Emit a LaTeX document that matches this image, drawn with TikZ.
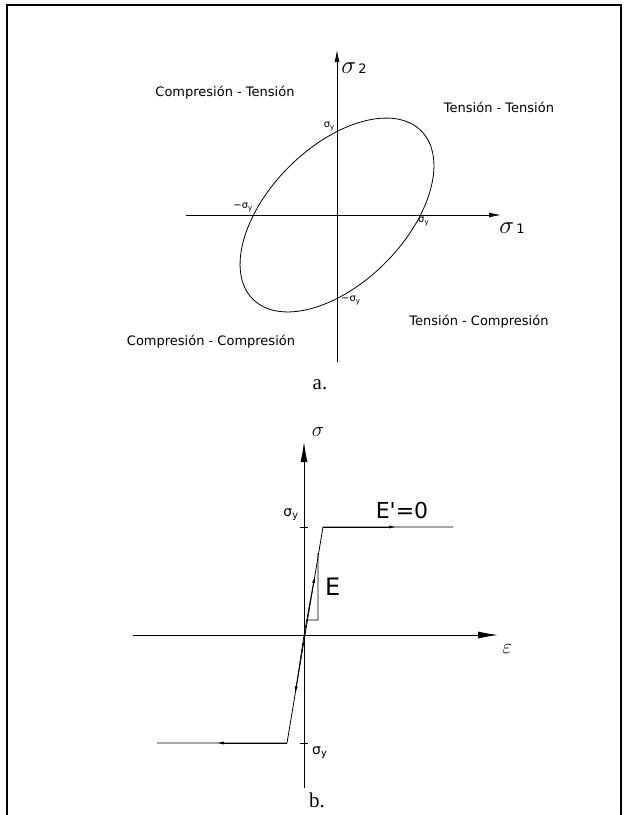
\documentclass[tikz,border=0pt]{standalone}
\usepackage{fontspec}
\setmainfont{DejaVu Sans}
\newfontfamily\capfont{Liberation Serif}
\usetikzlibrary{arrows.meta,calc}
\newcommand{\sy}{σ\textsubscript{y}}

\begin{document}
\begin{tikzpicture}[
  x=1pt, y=-1pt,
  axis/.style={line width=0.8pt, -{Latex[length=12pt,width=5pt]}},
  bigaxis/.style={line width=0.8pt, -{Latex[length=20pt,width=7pt]}},
  curve/.style={line width=0.8pt},
  midarrow/.style={line width=0.8pt, -{Latex[length=7pt,width=3pt]}},
  quad/.style={font=\fontsize{13}{15}\selectfont, inner sep=0pt},
  limit/.style={font=\fontsize{10}{12}\selectfont, inner sep=1pt},
  biglimit/.style={font=\fontsize{14}{16}\selectfont, inner sep=1pt},
  caption/.style={font=\capfont\fontsize{21}{23}\selectfont, inner sep=0pt}
]
  \useasboundingbox (0,0) rectangle (626,815);
  % frame
  \draw[line width=2.5pt] (7,815) -- (7,5) -- (621,5) -- (621,815);

  % a. yield surface
  \coordinate (oa) at (337,215);
  \coordinate (s1start) at (186,215);
  \coordinate (s1end) at (501,215);
  \coordinate (s2start) at (337,362);
  \coordinate (s2end) at (337,50);
  \draw[axis] (s1start) -- (s1end);
  \draw[axis] (s2start) -- (s2end);
  \draw[curve, rotate around={45:(oa)}] (oa) ellipse (119 and 68);
  \node[inner sep=0pt] (s2) at (354,68)
    {\fontsize{24}{24}\selectfont$\sigma$\fontsize{13}{13}\selectfont\,2};
  \node[inner sep=0pt] (s1) at (512,228)
    {\fontsize{24}{24}\selectfont$\sigma$\fontsize{13}{13}\selectfont\,1};
  \node[limit, anchor=south east] (syt) at (336,132) {\sy};
  \node[limit, anchor=south east] (msyl) at (254,213) {−\sy};
  \node[limit, anchor=north west] (syr) at (417,216) {\sy};
  \node[limit, anchor=north west] (msyb) at (340,295) {−\sy};
  \node[quad] (ct) at (225,93) {Compresión - Tensión};
  \node[quad] (tt) at (499,107) {Tensión - Tensión};
  \node[quad] (tc) at (479,322) {Tensión - Compresión};
  \node[quad] (cc) at (211,342) {Compresión - Compresión};
  \node[caption] (capa) at (320,385) {a.};

  % b. elastic - perfectly plastic
  \coordinate (ob) at (304,635);
  \coordinate (sgstart) at (304,788);
  \coordinate (sgend) at (304,442);
  \coordinate (epstart) at (133,635);
  \coordinate (epend) at (498,635);
  \coordinate (yt) at (323,527);
  \coordinate (pe) at (453,527);
  \coordinate (yb) at (287,743);
  \coordinate (pb) at (157,743);
  \draw[bigaxis] (sgstart) -- (sgend);
  \draw[bigaxis] (epstart) -- (epend);
  \draw[curve] (300,527) -- (308,527);
  \draw[curve] (300,743) -- (308,743);
  \draw[curve] (pb) -- (yb) -- (yt) -- (pe);
  \draw[midarrow] (yt) -- (396,527);
  \draw[midarrow] (yb) -- (217,743);
  \draw[midarrow] (ob) -- ($(yb)!0.773!(yt)$);
  \draw[midarrow] (ob) -- ($(yt)!0.77!(yb)$);
  \coordinate (tri1) at ($(yb)!0.569!(yt)$);
  \draw[curve] (tri1) -- (318,620) -- (318,553);
  \node[inner sep=0pt] (sg) at (318,432) {\fontsize{21}{21}\selectfont$\sigma$};
  \node[inner sep=0pt] (ep) at (507,649) {\fontsize{21}{21}\selectfont$\varepsilon$};
  \node[inner sep=0pt, anchor=west] (E) at (325,587) {\fontsize{24}{24}\selectfont E};
  \node[inner sep=0pt] (Ep) at (402,510) {\fontsize{22}{22}\selectfont E\textquotesingle=0};
  \node[biglimit] (syb1) at (291,515) {\sy};
  \node[biglimit, anchor=west] (syb2) at (311,753) {\sy};
  \node[caption] (capb) at (317,800) {b.};
\end{tikzpicture}
\end{document}
